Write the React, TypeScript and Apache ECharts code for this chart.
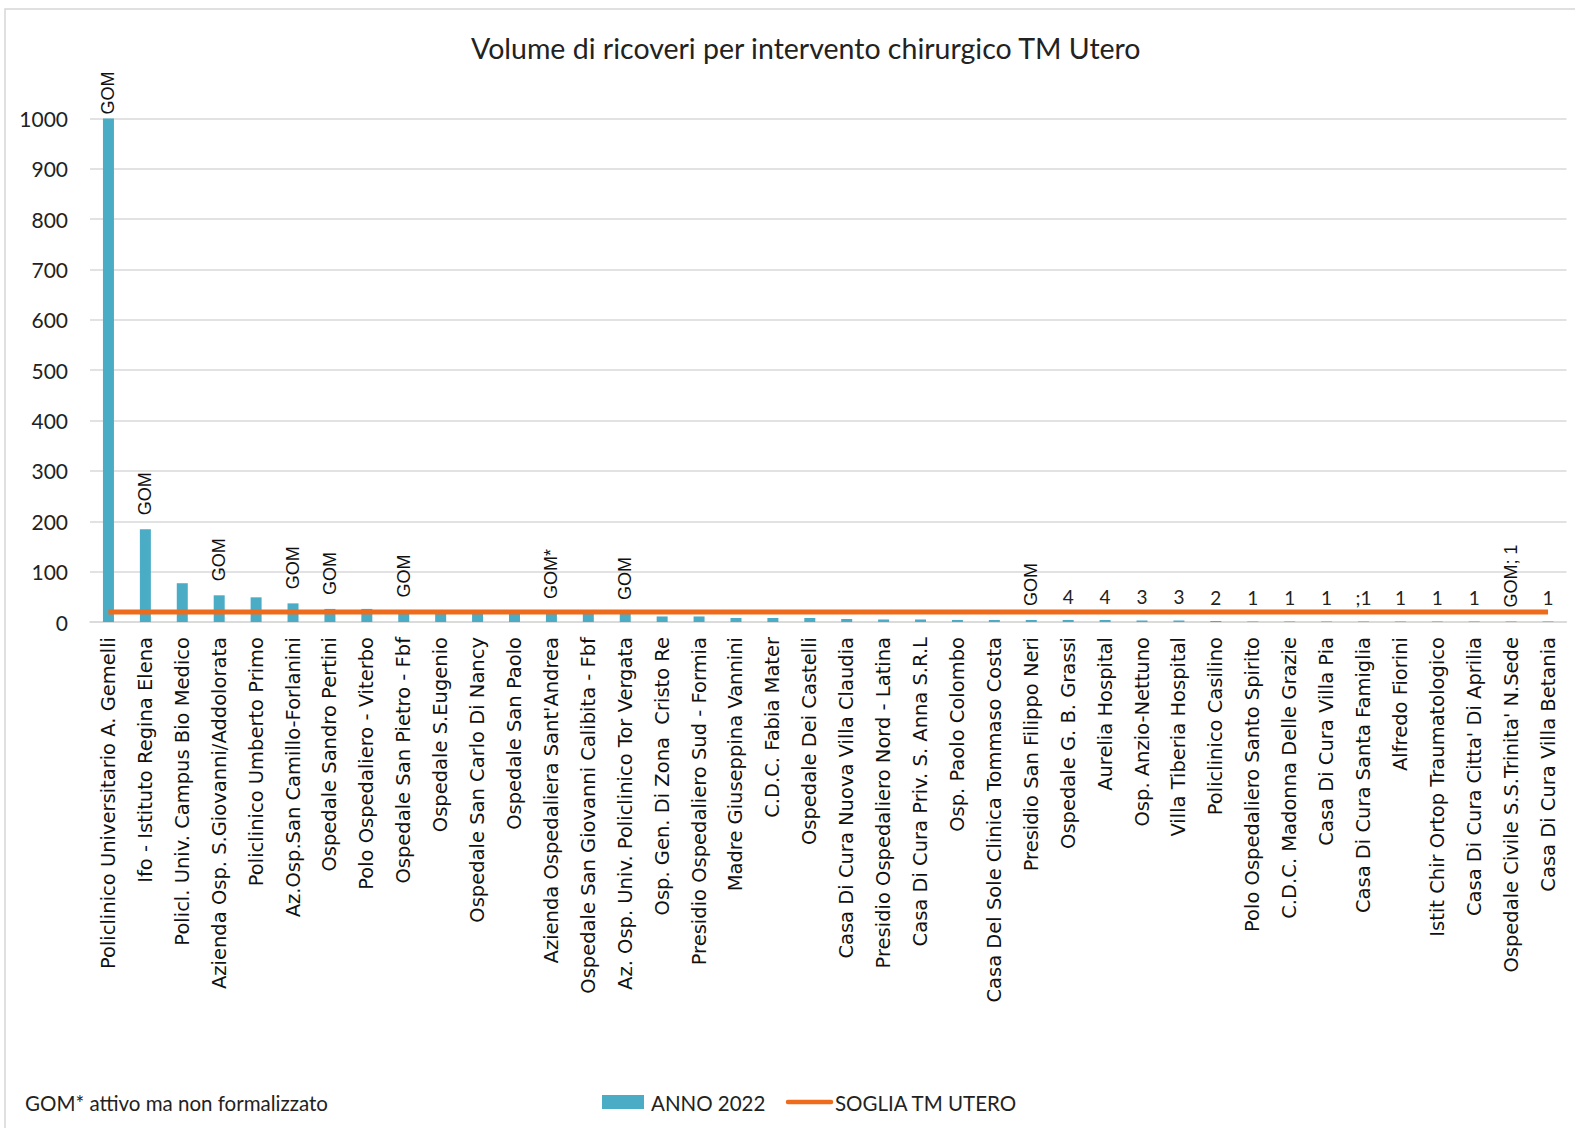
import React, { useEffect, useRef } from "react";
import * as echarts from "echarts";

const categories: string[] = [
  "Policlinico Universitario A. Gemelli",
  "Ifo - Istituto Regina Elena",
  "Policl. Univ. Campus Bio Medico",
  "Azienda Osp. S.Giovanni/Addolorata",
  "Policlinico Umberto Primo",
  "Az.Osp.San Camillo-Forlanini",
  "Ospedale Sandro Pertini",
  "Polo Ospedaliero - Viterbo",
  "Ospedale San Pietro - Fbf",
  "Ospedale S.Eugenio",
  "Ospedale San Carlo Di Nancy",
  "Ospedale San Paolo",
  "Azienda Ospedaliera Sant'Andrea",
  "Ospedale San Giovanni Calibita - Fbf",
  "Az. Osp. Univ. Policlinico Tor Vergata",
  "Osp. Gen. Di Zona  Cristo Re",
  "Presidio Ospedaliero Sud - Formia",
  "Madre Giuseppina Vannini",
  "C.D.C. Fabia Mater",
  "Ospedale Dei Castelli",
  "Casa Di Cura Nuova Villa Claudia",
  "Presidio Ospedaliero Nord - Latina",
  "Casa Di Cura Priv. S. Anna S.R.L",
  "Osp. Paolo Colombo",
  "Casa Del Sole Clinica Tommaso Costa",
  "Presidio San Filippo Neri",
  "Ospedale G. B. Grassi",
  "Aurelia Hospital",
  "Osp. Anzio-Nettuno",
  "Villa Tiberia Hospital",
  "Policlinico Casilino",
  "Polo Ospedaliero Santo Spirito",
  "C.D.C. Madonna Delle Grazie",
  "Casa Di Cura Villa Pia",
  "Casa Di Cura Santa Famiglia",
  "Alfredo Fiorini",
  "Istit Chir Ortop Traumatologico",
  "Casa Di Cura Citta' Di Aprilia",
  "Ospedale Civile S.S.Trinita' N.Sede",
  "Casa Di Cura Villa Betania",
];

const anno2022: number[] = [
  1000, 184, 77, 53, 49, 37, 26, 26, 21, 20,
  19, 18, 18, 17, 16, 11, 11, 8, 8, 8,
  6, 5, 5, 4, 4, 4, 4, 4, 3, 3,
  2, 1, 1, 1, 1, 1, 1, 1, 1, 1,
];

const soglia: number[] = categories.map(() => 20);

const barLabels: string[] = [
  "GOM", "GOM", "", "GOM", "", "GOM", "GOM", "", "GOM", "",
  "", "", "GOM*", "", "GOM", "", "", "", "", "",
  "", "", "", "", "", "GOM", "4", "4", "3", "3",
  "2", "1", "1", "1", ";1", "1", "1", "1", "GOM; 1", "1",
];

const yTicks = { min: 0, max: 1000, interval: 100 };

const TITLE = "Volume di ricoveri per intervento chirurgico TM Utero";
const NOTE = "GOM* attivo ma non formalizzato";
const SERIES_BAR = "ANNO 2022";
const SERIES_LINE = "SOGLIA TM UTERO";
const BAR_COLOR = "#4BACC6";
const LINE_COLOR = "#EE6B1C";

function labelFor(text: string, i: number): any {
  if (!text) return { show: false };
  if (text.indexOf("GOM") >= 0) {
    return {
      show: true,
      formatter: text,
      position: "top",
      rotate: 90,
      align: "left",
      verticalAlign: "middle",
      distance: i === 0 ? 4 : 14,
      fontFamily: "Liberation Sans",
      fontSize: 18,
      color: "#111",
    };
  }
  return {
    show: true,
    formatter: text,
    position: "top",
    distance: 14,
    fontFamily: "Lato",
    fontSize: 19,
    color: "#222",
  };
}

export default function App() {
  const ref = useRef<HTMLDivElement>(null);
  useEffect(() => {
    if (!ref.current) return;
    const chart = echarts.init(ref.current, null, { renderer: "svg" });
    const legendText = { fontFamily: "Lato", fontSize: 20.5, fill: "#222" };
    const option: any = {
      animation: false,
      backgroundColor: "#ffffff",
      title: {
        text: TITLE,
        left: 466,
        top: 28,
        textStyle: {
          fontFamily: "Lato",
          fontSize: 28.5,
          fontWeight: "normal",
          color: "#222",
        },
      },
      legend: { show: false },
      grid: { left: 90, right: 8.5, top: 118.4, bottom: 506, containLabel: false },
      xAxis: {
        type: "category",
        data: categories,
        axisTick: { show: false },
        axisLine: { show: true, lineStyle: { color: "#d9d9d9", width: 1.5 } },
        axisLabel: {
          interval: 0,
          rotate: 90,
          margin: 15,
          fontFamily: "DejaVu Sans",
          fontSize: 19.5,
          color: "#111",
        },
      },
      yAxis: {
        type: "value",
        min: yTicks.min,
        max: yTicks.max,
        interval: yTicks.interval,
        axisLine: { show: false },
        axisTick: { show: false },
        axisLabel: {
          fontFamily: "Lato",
          fontSize: 21,
          color: "#222",
          margin: 22,
          formatter: (v: number) => String(v),
        },
        splitLine: { lineStyle: { color: "#d9d9d9", width: 1.5 } },
      },
      graphic: [
        {
          type: "rect",
          shape: { x: 5, y: 9, width: 1700, height: 1300 },
          style: { fill: "none", stroke: "#d6d6d6", lineWidth: 1.5 },
          silent: true,
        },
        {
          type: "text",
          x: 25,
          y: 1103,
          style: {
            text: NOTE,
            fontFamily: "Lato",
            fontSize: 20.5,
            fill: "#222",
            verticalAlign: "middle",
          },
        },
        {
          type: "rect",
          shape: { x: 602, y: 1095, width: 42, height: 14 },
          style: { fill: BAR_COLOR },
        },
        {
          type: "text",
          x: 651,
          y: 1103,
          style: { ...legendText, text: SERIES_BAR, verticalAlign: "middle" },
        },
        {
          type: "line",
          shape: { x1: 788, y1: 1102, x2: 831, y2: 1102 },
          style: { stroke: LINE_COLOR, lineWidth: 4.5, lineCap: "round" },
        },
        {
          type: "text",
          x: 835,
          y: 1103,
          style: { ...legendText, text: SERIES_LINE, verticalAlign: "middle" },
        },
      ],
      series: [
        {
          name: SERIES_BAR,
          type: "bar",
          barWidth: 11,
          itemStyle: { color: BAR_COLOR },
          data: anno2022.map((v, i) => ({ value: v, label: labelFor(barLabels[i], i) })),
          z: 2,
        },
        {
          name: SERIES_LINE,
          type: "line",
          data: soglia,
          symbol: "none",
          showSymbol: false,
          lineStyle: { color: LINE_COLOR, width: 5 },
          itemStyle: { color: LINE_COLOR },
          z: 3,
        },
      ],
    };
    chart.setOption(option);
    return () => chart.dispose();
  }, []);
  return (
    <div
      ref={ref}
      style={{ position: "absolute", left: 0, top: 0, width: 1575, height: 1128 }}
    />
  );
}
